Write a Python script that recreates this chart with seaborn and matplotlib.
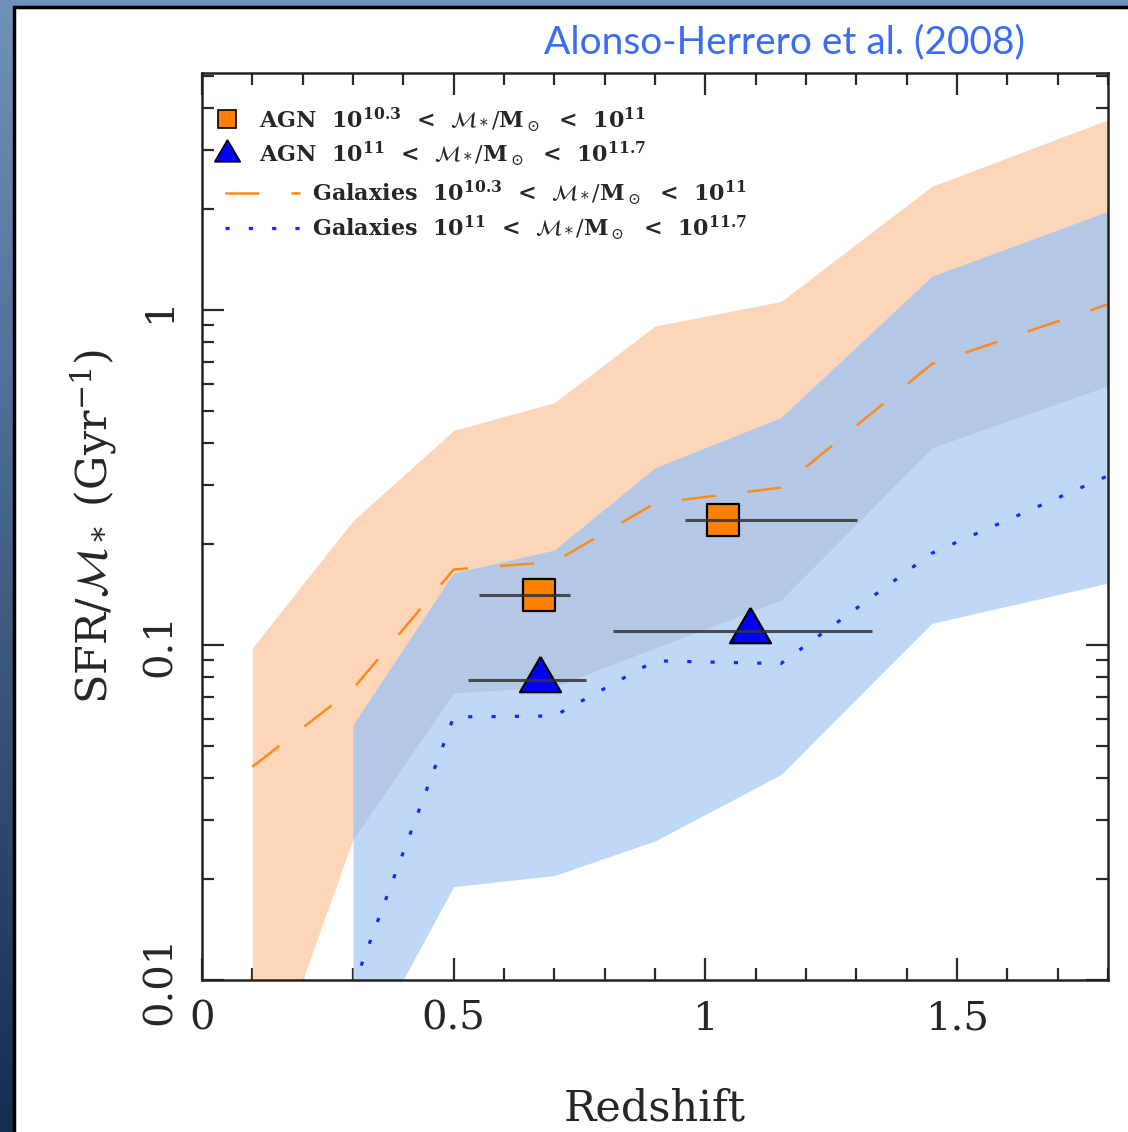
import numpy as np
import matplotlib
matplotlib.use("Agg")
import matplotlib.pyplot as plt
import pandas as pd
import seaborn as sns
from matplotlib.patches import Rectangle
from matplotlib.lines import Line2D
from matplotlib.ticker import FixedLocator, MultipleLocator, LogLocator, NullFormatter

sns.set_style("ticks")
plt.rcParams["font.family"] = ["DejaVu Serif"]
plt.rcParams["mathtext.fontset"] = "dejavuserif"

# ---- galaxy bands and medians (SFR / M*, Gyr^-1) ----
z_orange = [0.1, 0.3, 0.5, 0.7, 0.9, 1.15, 1.45, 1.8]
orange_upper = [0.098, 0.235, 0.437, 0.529, 0.896, 1.06, 2.34, 3.7]
orange_lower = [0.0038, 0.0263, 0.072, 0.075, 0.098, 0.136, 0.388, 0.594]
orange_median = [0.0433, 0.074, 0.168, 0.177, 0.265, 0.295, 0.69, 1.04]

z_blue = [0.3, 0.5, 0.7, 0.9, 1.15, 1.45, 1.8]
blue_upper = [0.0578, 0.164, 0.192, 0.338, 0.477, 1.26, 1.97]
blue_lower = [0.0053, 0.019, 0.0205, 0.026, 0.041, 0.116, 0.153]
blue_median = [0.0095, 0.061, 0.0614, 0.0897, 0.088, 0.188, 0.32]

# ---- AGN hosts ----
agn_lo_z = [0.670, 1.035]
agn_lo_ssfr = [0.141, 0.236]
agn_lo_zmin = [0.550, 0.960]
agn_lo_zmax = [0.732, 1.301]

agn_hi_z = [0.671, 1.089]
agn_hi_ssfr = [0.0785, 0.110]
agn_hi_zmin = [0.528, 0.817]
agn_hi_zmax = [0.762, 1.332]

x_ticks = [0, 0.5, 1, 1.5]
x_ticklabels = ["0", "0.5", "1", "1.5"]
y_ticks = [0.01, 0.1, 1]
y_ticklabels = ["0.01", "0.1", "1"]

C_PEACH = "#fdd6b9"
C_LBLUE = "#bfd8f8"
C_OVERLAP = "#b4c8e6"
C_ORANGE = "#ff8a1c"
C_BLUE = "#1428ff"

W, H = 1128, 1132
fig = plt.figure(figsize=(W / 100, H / 100), dpi=100)

# slide-style backdrop: dark blue vertical gradient with a white panel
bg = fig.add_axes([0, 0, 1, 1], zorder=-10)
top = np.array([112, 146, 186]) / 255
bot = np.array([20, 46, 80]) / 255
t = np.linspace(0, 1, 256)[:, None]
grad = (top[None, :] * (1 - t) + bot[None, :] * t)[:, None, :]
bg.imshow(grad, aspect="auto", extent=[0, 1, 0, 1], origin="upper")
bg.add_patch(Rectangle((14 / W, -0.01), 1.0, 1 - 7 / H + 0.01,
                       facecolor="white", edgecolor="black", linewidth=2.5))
bg.set_xlim(0, 1)
bg.set_ylim(0, 1)
bg.axis("off")

ax = fig.add_axes([202 / W, 1 - 980 / H, 906 / W, 907 / H])
ax.set_yscale("log")
ax.set_xlim(0, 1.8)
ax.set_ylim(0.01, 5.1)
ax.set_facecolor("none")

# shaded ranges
ax.fill_between(z_orange, orange_lower, orange_upper, color=C_PEACH, lw=0, zorder=1)
ax.fill_between(z_blue, blue_lower, blue_upper, color=C_LBLUE, lw=0, zorder=1.1)
ax.fill_between(z_blue, orange_lower[1:], blue_upper, color=C_OVERLAP, lw=0, zorder=1.2)

# galaxy medians
df_o = pd.DataFrame({"z": z_orange, "s": orange_median})
df_b = pd.DataFrame({"z": z_blue, "s": blue_median})
sns.lineplot(data=df_o, x="z", y="s", ax=ax, color=C_ORANGE, linewidth=1.8,
             linestyle=(0, (13.6, 12.8)), zorder=3, estimator=None, sort=False)
sns.lineplot(data=df_b, x="z", y="s", ax=ax, color=C_BLUE, linewidth=2.3,
             linestyle=(0, (1.3, 6.0)), zorder=3, estimator=None, sort=False)

# AGN points
tri = [(0, 24.7), (-21.5, -12.3), (21.5, -12.3), (0, 24.7)]
sns.scatterplot(x=agn_lo_z, y=agn_lo_ssfr, ax=ax, marker="s", s=500,
                color="#ff7f00", edgecolor="black", linewidth=1.6, zorder=4)
sns.scatterplot(x=agn_hi_z, y=agn_hi_ssfr, ax=ax, marker=tri, s=1150,
                color="#0000ff", edgecolor="black", linewidth=1.6, zorder=4)

for zc, yc, zmin, zmax in [(agn_lo_z, agn_lo_ssfr, agn_lo_zmin, agn_lo_zmax),
                           (agn_hi_z, agn_hi_ssfr, agn_hi_zmin, agn_hi_zmax)]:
    zc = np.array(zc)
    ax.errorbar(zc, yc, xerr=[zc - np.array(zmin), np.array(zmax) - zc],
                fmt="none", ecolor="#333333", elinewidth=2.2, capsize=0,
                alpha=0.85, zorder=5)

# axes styling
for sp in ax.spines.values():
    sp.set_linewidth(1.8)
    sp.set_color("#222222")
    sp.set_zorder(6)
ax.xaxis.set_major_locator(FixedLocator(x_ticks))
ax.set_xticklabels(x_ticklabels)
ax.xaxis.set_minor_locator(MultipleLocator(0.1))
ax.yaxis.set_major_locator(FixedLocator(y_ticks))
ax.set_yticklabels(y_ticklabels)
ax.yaxis.set_minor_locator(LogLocator(base=10, subs=np.arange(2, 10)))
ax.yaxis.set_minor_formatter(NullFormatter())
ax.tick_params(which="both", direction="in", top=True, right=True,
               color="#2a2a2a", width=1.6)
ax.tick_params(which="major", length=15.5)
ax.tick_params(which="minor", length=8.5)
ax.tick_params(axis="x", which="major", labelsize=29, pad=15)
ax.tick_params(axis="y", which="major", labelsize=29, pad=17)
for lab in ax.get_yticklabels():
    lab.set_rotation(90)
    lab.set_va("center")

ax.set_xlabel("Redshift", fontsize=31)
ax.xaxis.set_label_coords(0.5, -0.118)
ax.set_ylabel(r"SFR/$\mathcal{M}_*$ (Gyr$^{-1}$)", fontsize=31)
ax.yaxis.set_label_coords(-0.092, 0.5)

# legends
leg_fs = 16
h1 = [Line2D([], [], ls="none", marker="s", markersize=13, markerfacecolor="#ff7f00",
             markeredgecolor="black", markeredgewidth=1.2),
      Line2D([], [], ls="none", marker=tri, markersize=21, markerfacecolor="#0000ff",
             markeredgecolor="black", markeredgewidth=1.2)]
l1 = [r"AGN  $\mathbf{10^{10.3}}$  <  $\mathcal{M}_*/\mathbf{M}_\odot$  <  $\mathbf{10^{11}}$",
      r"AGN  $\mathbf{10^{11}}$  <  $\mathcal{M}_*/\mathbf{M}_\odot$  <  $\mathbf{10^{11.7}}$"]
leg1 = ax.legend(h1, l1, loc="upper left", bbox_to_anchor=(0.006, 0.965),
                 frameon=False, handlelength=1.8,
                 handletextpad=0.5, borderpad=0, borderaxespad=0,
                 labelspacing=0.27, prop={"weight": "bold", "size": leg_fs})
ax.add_artist(leg1)
h2 = [Line2D([], [], color=C_ORANGE, lw=1.8, ls=(0, (13.6, 12.8))),
      Line2D([], [], color=C_BLUE, lw=2.3, ls=(0, (1.3, 6.0)))]
l2 = [r"Galaxies  $\mathbf{10^{10.3}}$  <  $\mathcal{M}_*/\mathbf{M}_\odot$  <  $\mathbf{10^{11}}$",
      r"Galaxies  $\mathbf{10^{11}}$  <  $\mathcal{M}_*/\mathbf{M}_\odot$  <  $\mathbf{10^{11.7}}$"]
leg2 = ax.legend(h2, l2, loc="upper left", bbox_to_anchor=(0.025, 0.884),
                 frameon=False, handlelength=3.4, handletextpad=0.55,
                 borderpad=0, borderaxespad=0, labelspacing=0.27,
                 prop={"weight": "bold", "size": leg_fs})

fig.text(784 / W, 1 - 42 / H, "Alonso-Herrero et al. (2008)", family="Lato",
         fontsize=28, color="#3a6cf4", ha="center", va="center")

fig.savefig("out.png", dpi=100)
